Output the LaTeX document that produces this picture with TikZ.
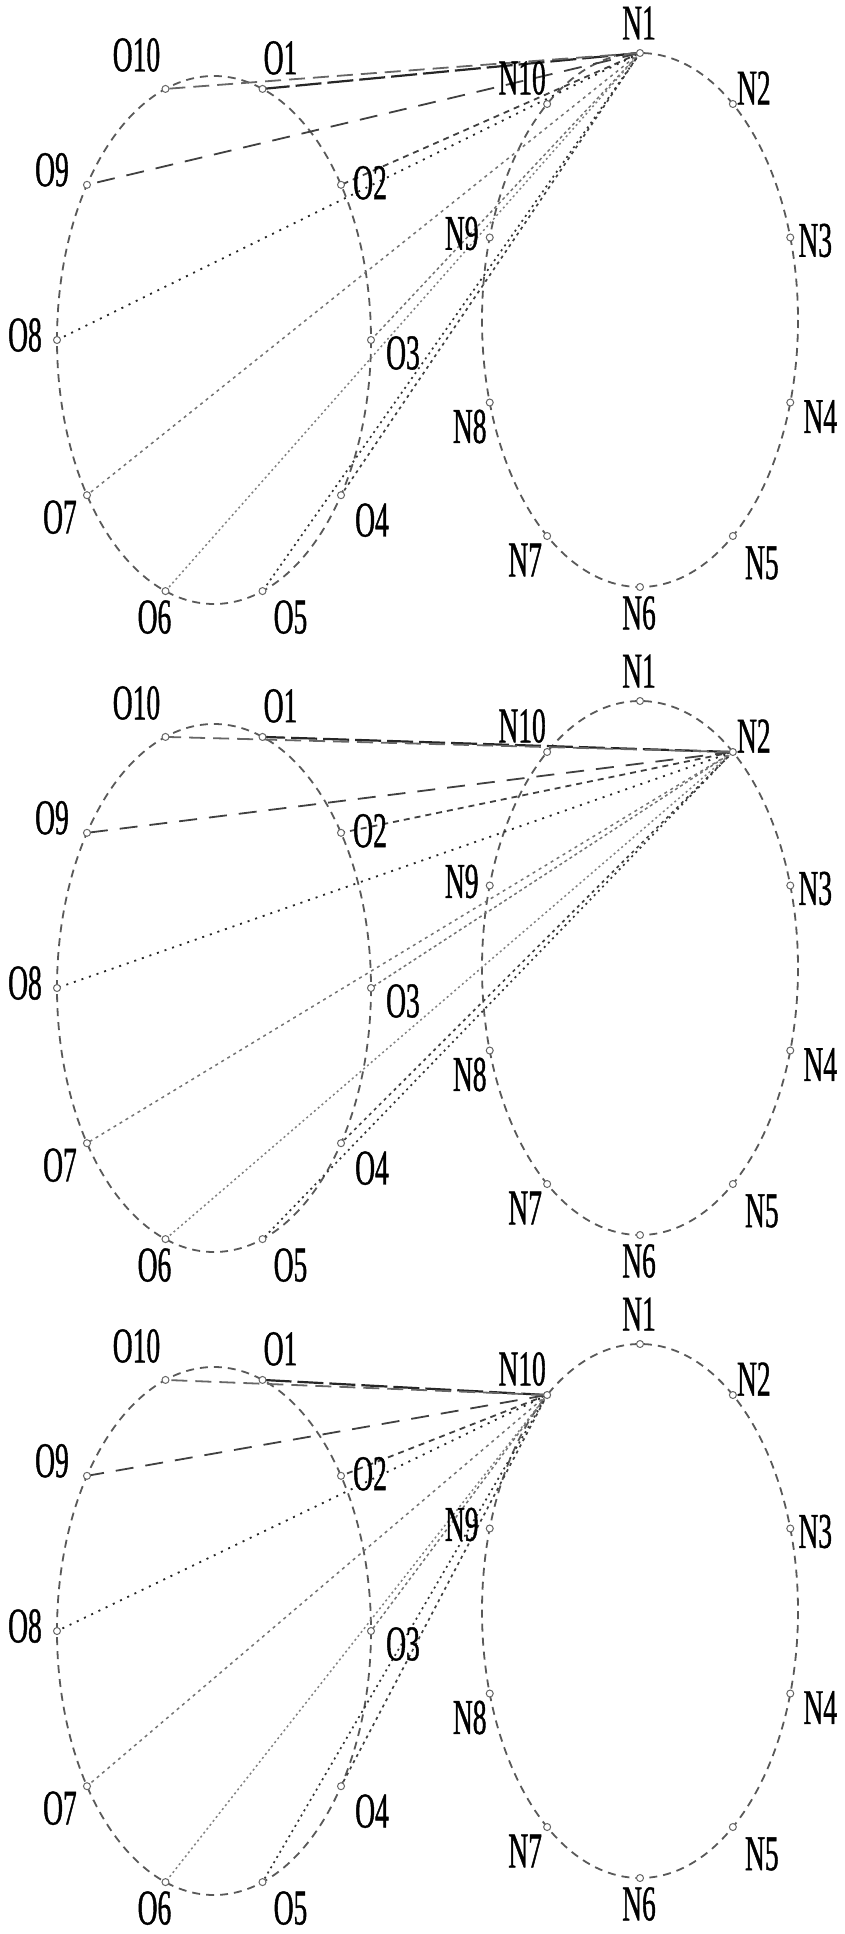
\documentclass[tikz,border=0pt]{standalone}
\usepackage{fontspec}
\newfontfamily\narrowserif[FakeStretch=0.55,FakeBold=0.8]{Liberation Serif}
\usepackage{tikz}
\usetikzlibrary{arrows,positioning,calc}
\tikzstyle{rim}=[draw=black!65,line width=1.8pt,dash pattern=on 8pt off 6pt]
\tikzstyle{vmark}=[draw=black!60,circle,inner sep=0pt,minimum size=7pt,line width=1pt,fill=white]
\tikzstyle{lbl}=[font=\narrowserif\fontsize{50}{50}\selectfont,inner sep=0pt]
\tikzstyle{lnA}=[draw=black!85,line width=2.2pt,dash pattern=on 26pt off 6pt]
\tikzstyle{lnB}=[draw=black!75,line width=1.8pt,dash pattern=on 6pt off 5pt]
\tikzstyle{lnC}=[draw=black!55,line width=1.5pt,dash pattern=on 3pt off 3pt]
\tikzstyle{lnD}=[draw=black!75,line width=1.7pt,dash pattern=on 3pt off 4pt]
\tikzstyle{lnE}=[draw=black!80,line width=1.7pt,dash pattern=on 2pt off 4pt]
\tikzstyle{lnF}=[draw=black!50,line width=1.5pt,dash pattern=on 2pt off 3pt]
\tikzstyle{lnG}=[draw=black!55,line width=1.5pt,dash pattern=on 3pt off 4pt]
\tikzstyle{lnH}=[draw=black!85,line width=1.8pt,dash pattern=on 2pt off 6pt]
\tikzstyle{lnI}=[draw=black!75,line width=1.8pt,dash pattern=on 18pt off 12pt]
\tikzstyle{lnJ}=[draw=black!60,line width=1.8pt,dash pattern=on 16pt off 8pt]

\begin{document}
\begin{tikzpicture}[x=1pt,y=-1pt]
\useasboundingbox (0,0) rectangle (844,1934);
\foreach \p/\dy/\hub in {1/0/N1,2/648/N2,3/1291/N10}{
	\draw[rim] (214,340+\dy) ellipse [x radius=157,y radius=264];
	\draw[rim] (640,320+\dy) ellipse [x radius=158,y radius=267];
	\foreach \k in {1,...,10}{
		\coordinate (O\k-\p) at ({214+157*cos(108-36*\k)},{340+\dy-264*sin(108-36*\k)});
		\coordinate (N\k-\p) at ({640+158*cos(126-36*\k)},{320+\dy-267*sin(126-36*\k)});
	}
	\foreach \k/\sty in {1/lnA,2/lnB,3/lnC,4/lnD,5/lnE,6/lnF,7/lnG,8/lnH,9/lnI,10/lnJ}
		\draw[\sty] (\hub-\p) -- (O\k-\p);
	\foreach \k in {1,...,10}{
		\node[vmark] (o\k-\p) at (O\k-\p) {};
		\node[vmark] (n\k-\p) at (N\k-\p) {};
	}
	\foreach \k/\dx/\dv in {1/18/-31,2/29/-2,3/32/13,4/31/25,5/28/26,6/-11/26,7/-27/22,8/-32/-5,9/-35/-15,10/-29/-34}
		\node[lbl] (O\k-\p-t) at ([shift={(\dx,\dv)}]O\k-\p) {O\k};
	\foreach \k/\dx/\dv in {1/-1/-30,2/21/-16,3/25/3,4/30/14,5/29/27,6/-1/26,7/-22/24,8/-20/24,9/-28/-4,10/-25/-26}
		\node[lbl] (N\k-\p-t) at ([shift={(\dx,\dv)}]N\k-\p) {N\k};
}
\end{tikzpicture}
\end{document}
